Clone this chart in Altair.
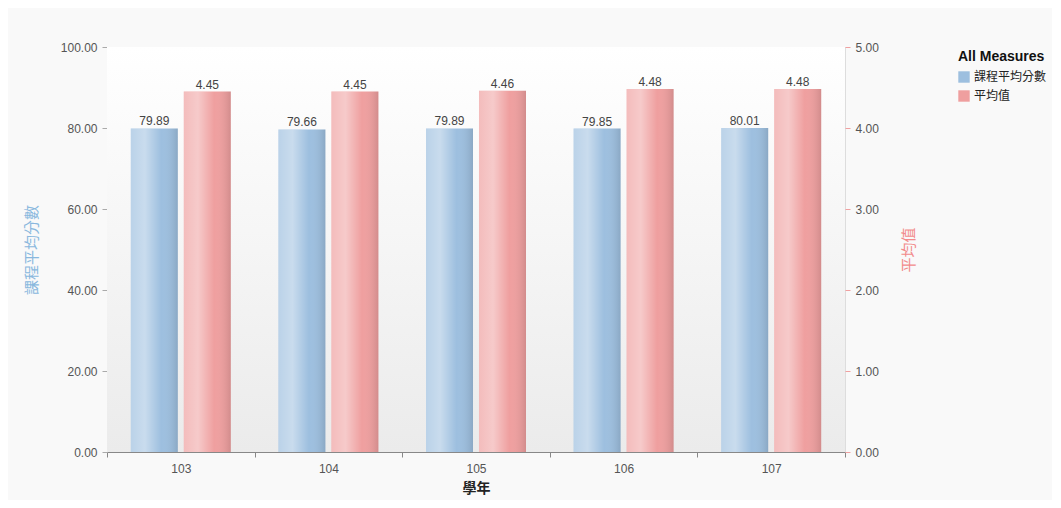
import altair as alt
import pandas as pd

years = ["103", "104", "105", "106", "107"]
course_avg = [79.89, 79.66, 79.89, 79.85, 80.01]
mean_val = [4.45, 4.45, 4.46, 4.48, 4.48]
measures = ["課程平均分數", "平均值"]
colors = ["#9dbfdf", "#ef9f9f"]

df = pd.DataFrame({
    "year": years * 2,
    "measure": [measures[0]] * 5 + [measures[1]] * 5,
    "value": course_avg + mean_val,
})

FONT = "Liberation Sans, Noto Sans CJK TC, sans-serif"
W, H = 738, 405

x_enc = alt.X("year:N", title="學年",
              scale=alt.Scale(paddingInner=0, paddingOuter=0),
              axis=alt.Axis(labelAngle=0, tickBand="extent", labelColor="#555555",
                            labelFontSize=12, labelPadding=6, tickColor="#888888",
                            domainColor="#888888", tickSize=5,
                            titleFontSize=14, titleFontWeight="bold", titleColor="#222222",
                            titlePadding=7, grid=False))
xoff = alt.XOffset("measure:N", scale=alt.Scale(domain=measures, paddingInner=0.113, paddingOuter=0.449))
color_enc = alt.Color("measure:N", scale=alt.Scale(domain=measures, range=colors),
                      legend=alt.Legend(title="All Measures", orient="none", legendX=851, legendY=3,
                                        titleFontSize=14, titleFontWeight="bold", titleColor="#111111",
                                        labelFontSize=12, labelColor="#222222", symbolType="square",
                                        symbolSize=130, symbolStrokeWidth=0, symbolOpacity=1,
                                        rowPadding=7, titlePadding=7, labelOffset=4,
                                        labelLimit=200))

shade = alt.Gradient(gradient="linear", x1=0, x2=1, y1=0, y2=0, stops=[
    alt.GradientStop(color="rgba(255,255,255,0.30)", offset=0),
    alt.GradientStop(color="rgba(255,255,255,0.45)", offset=0.3),
    alt.GradientStop(color="rgba(255,255,255,0.0)", offset=0.65),
    alt.GradientStop(color="rgba(0,0,0,0.12)", offset=1),
])

def layer(measure, axis):
    d = alt.Chart(df).transform_filter(alt.datum.measure == measure)
    y = alt.Y("value:Q", scale=alt.Scale(domain=[0, 100] if axis == "left" else [0, 5], nice=False),
              axis=alt.Axis(orient=axis, format=".2f", tickCount=6, grid=False, domain=False,
                            labelColor="#555555", labelFontSize=12, tickSize=5,
                            tickColor="#aaaaaa" if axis == "left" else "#f0a0a0",
                            labelPadding=5, titleFontSize=15, titleFontWeight="normal",
                            titleColor="#8ab8de" if axis == "left" else "#f28b8b",
                            titleAngle=270, titlePadding=21 if axis == "left" else 38),
              title=measure)
    bars = d.mark_bar().encode(x=x_enc, xOffset=xoff, y=y, color=color_enc)
    gloss = d.mark_bar(fill=shade).encode(x=x_enc, xOffset=xoff, y=y)
    labels = d.mark_text(dy=-7, fontSize=12, color="#444444", font=FONT).encode(
        x=x_enc, xOffset=xoff, y=y, text=alt.Text("value:Q", format=".2f"))
    return alt.layer(bars, gloss, labels)

bg = alt.Gradient(gradient="linear", x1=0, x2=0, y1=0, y2=1, stops=[
    alt.GradientStop(color="#ffffff", offset=0),
    alt.GradientStop(color="#ebebeb", offset=1),
])
background = alt.Chart(pd.DataFrame({"k": [0]})).mark_rect(fill=bg).encode(
    x=alt.value(0), x2=alt.value(W), y=alt.value(0), y2=alt.value(H))

chart = alt.layer(background, layer(measures[0], "left"), layer(measures[1], "right")).resolve_scale(
    y="independent"
).properties(
    width=W, height=H,
    autosize=alt.AutoSizeParams(type="none"),
    padding={"left": 99, "top": 39, "right": 207, "bottom": 48},
    background="#f9f9f9",
).configure_view(
    stroke=None
).configure(font=FONT)

chart.save("out.html", embed_options={"renderer": "svg", "actions": False})
